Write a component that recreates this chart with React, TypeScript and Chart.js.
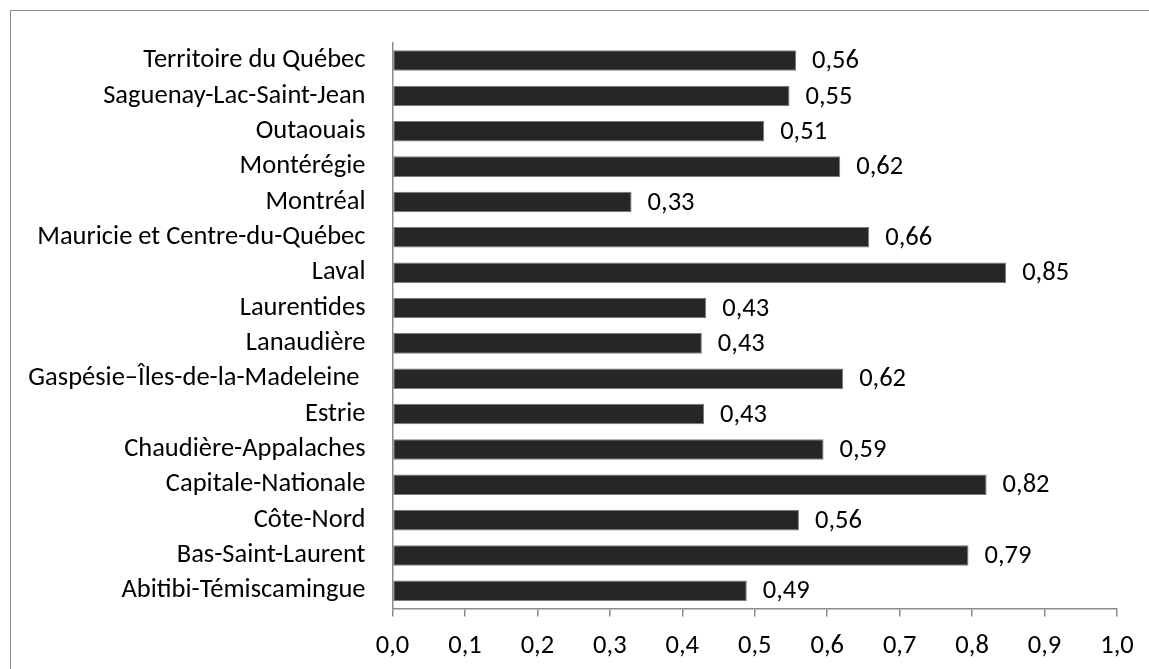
import React, { useEffect, useRef } from "react";
import { Chart, registerables } from "chart.js";

Chart.register(...registerables);

const categories: string[] = [
  "Territoire du Québec",
  "Saguenay-Lac-Saint-Jean",
  "Outaouais",
  "Montérégie",
  "Montréal",
  "Mauricie et Centre-du-Québec",
  "Laval",
  "Laurentides",
  "Lanaudière",
  "Gaspésie–Îles-de-la-Madeleine ",
  "Estrie",
  "Chaudière-Appalaches",
  "Capitale-Nationale",
  "Côte-Nord",
  "Bas-Saint-Laurent",
  "Abitibi-Témiscamingue",
];

const values: number[] = [
  0.557, 0.548, 0.513, 0.618, 0.33, 0.658, 0.847, 0.433, 0.427, 0.622, 0.43,
  0.595, 0.82, 0.561, 0.795, 0.489,
];

const valueLabelTexts: string[] = [
  "0,56", "0,55", "0,51", "0,62", "0,33", "0,66", "0,85", "0,43", "0,43",
  "0,62", "0,43", "0,59", "0,82", "0,56", "0,79", "0,49",
];

const xTicks: number[] = [0, 0.1, 0.2, 0.3, 0.4, 0.5, 0.6, 0.7, 0.8, 0.9, 1.0];

const FONT = "Carlito, Lato, sans-serif";
const FONT_SIZE = 26.5;

const fmt = (v: number, d: number) => v.toFixed(d).replace(".", ",");

const valueLabels = {
  id: "valueLabels",
  afterDatasetsDraw(chart: any) {
    const ctx = chart.ctx;
    const meta = chart.getDatasetMeta(0);
    ctx.save();
    ctx.font = `${FONT_SIZE}px ${FONT}`;
    ctx.fillStyle = "#000000";
    ctx.textAlign = "left";
    ctx.textBaseline = "middle";
    meta.data.forEach((bar: any, i: number) => {
      ctx.fillText(valueLabelTexts[i], bar.x + 16, bar.y + 1);
    });
    ctx.restore();
  },
};

export default function App() {
  const ref = useRef<HTMLCanvasElement>(null);

  useEffect(() => {
    if (!ref.current) return;
    const chart = new Chart(ref.current, {
      type: "bar",
      data: {
        labels: categories,
        datasets: [
          {
            data: values,
            backgroundColor: "#262626",
            borderColor: "#7a7a7a",
            borderWidth: 1,
            borderSkipped: false,
            categoryPercentage: 1,
            barPercentage: 0.58,
          },
        ],
      },
      options: {
        indexAxis: "y",
        responsive: false,
        animation: false,
        devicePixelRatio: 1,
        layout: { padding: { left: 0, right: 32, top: 40, bottom: 0 } },
        plugins: {
          legend: { display: false },
          tooltip: { enabled: false },
          title: { display: false },
        },
        scales: {
          x: {
            type: "linear",
            min: 0,
            max: 1,
            afterBuildTicks: (scale: any) => {
              scale.ticks = xTicks.map((v) => ({ value: v }));
            },
            afterFit: (scale: any) => {
              scale.height = 60.5;
            },
            grid: {
              display: true,
              drawOnChartArea: false,
              drawTicks: true,
              tickLength: 8,
              color: "#8c8c8c",
              lineWidth: 1.5,
            },
            border: { display: true, color: "#8c8c8c", width: 1.5 },
            ticks: {
              color: "#000000",
              font: { family: FONT, size: FONT_SIZE },
              padding: 14,
              maxRotation: 0,
              autoSkip: false,
              callback: (v: any) => fmt(Number(v), 1),
            },
          },
          y: {
            type: "category",
            afterFit: (scale: any) => {
              scale.width = 392.5;
            },
            grid: { display: false, drawTicks: false },
            border: { display: true, color: "#8c8c8c", width: 1.5 },
            ticks: {
              color: "#000000",
              font: { family: FONT, size: FONT_SIZE },
              padding: 27,
              autoSkip: false,
            },
          },
        },
      },
      plugins: [valueLabels],
    });
    return () => chart.destroy();
  }, []);

  return (
    <div
      style={{
        position: "fixed",
        left: 0,
        top: 0,
        width: 1149,
        height: 669,
        overflow: "hidden",
        background: "#ffffff",
      }}
    >
      <div
        style={{
          position: "absolute",
          left: 10,
          top: 10,
          width: 2000,
          height: 2000,
          border: "1.5px solid #8c8c8c",
        }}
      />
      <canvas
        ref={ref}
        width={1149}
        height={669}
        style={{ position: "absolute", left: 0, top: 0, width: 1149, height: 669 }}
      />
    </div>
  );
}
